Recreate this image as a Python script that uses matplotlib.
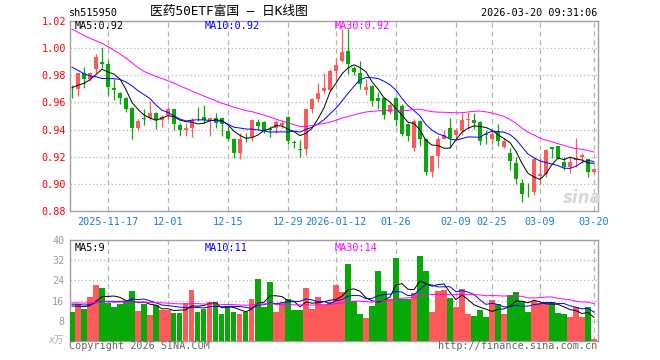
import numpy as np
import matplotlib
matplotlib.use('Agg')
import matplotlib.pyplot as plt

# daily K data, 2025-11-07 .. 2026-03-20
opens = [0.9695, 0.9696, 0.982, 0.977, 0.985, 0.990, 0.988, 0.971, 0.9667, 0.963,
         0.956, 0.941, 0.9485, 0.9484, 0.9523, 0.9467, 0.9504, 0.9548, 0.9435, 0.9395,
         0.9415, 0.9487, 0.9491, 0.9469, 0.9486, 0.9486, 0.9393, 0.9333, 0.9227, 0.9348,
         0.9343, 0.9459, 0.9459, 0.9402, 0.9412, 0.9435, 0.9494, 0.9308, 0.9254, 0.9257,
         0.9548, 0.9622, 0.9684, 0.9691, 0.9832, 0.9906, 0.998, 0.9855, 0.982, 0.969,
         0.972, 0.963, 0.963, 0.9531, 0.963, 0.9573, 0.9444, 0.9264, 0.9462, 0.9333,
         0.9084, 0.9202, 0.933, 0.9412, 0.9363, 0.9393, 0.9474, 0.9474, 0.9457, 0.9365,
         0.9331, 0.9383, 0.9269, 0.9227, 0.9153, 0.9005, 0.8950, 0.8941, 0.9059, 0.9074,
         0.9269, 0.9281, 0.9158, 0.9121, 0.9178, 0.9198, 0.9183, 0.9084]
highs = [0.973, 0.982, 0.986, 0.9825, 0.996, 1.0005, 0.991, 0.977, 0.968, 0.964,
         0.957, 0.948, 0.955, 0.961, 0.953, 0.951, 0.9565, 0.955, 0.9445, 0.9445,
         0.9484, 0.9568, 0.9578, 0.949, 0.952, 0.949, 0.9425, 0.9335, 0.9375, 0.9375,
         0.948, 0.948, 0.946, 0.9425, 0.9467, 0.9467, 0.950, 0.9326, 0.9326, 0.956,
         0.9635, 0.9746, 0.982, 0.9844, 0.9931, 1.014, 1.014, 0.987, 0.9906, 0.977,
         0.973, 0.9675, 0.964, 0.9598, 0.964, 0.9585, 0.9447, 0.9479, 0.9474, 0.9335,
         0.9205, 0.935, 0.9398, 0.9486, 0.9412, 0.9523, 0.9528, 0.9523, 0.9461, 0.9398,
         0.9398, 0.9444, 0.9338, 0.9264, 0.9198, 0.9035, 0.9005, 0.9188, 0.9188, 0.9257,
         0.9272, 0.9281, 0.9198, 0.9202, 0.9338, 0.9227, 0.9183, 0.9116]
lows = [0.963, 0.9647, 0.971, 0.976, 0.982, 0.9857, 0.9657, 0.9615, 0.9585, 0.953,
        0.933, 0.9395, 0.9437, 0.947, 0.9407, 0.942, 0.9475, 0.940, 0.9356, 0.9356,
        0.9348, 0.9465, 0.945, 0.935, 0.941, 0.935, 0.9314, 0.919, 0.918, 0.9306,
        0.9314, 0.940, 0.9375, 0.9346, 0.9375, 0.9412, 0.9296, 0.9264, 0.9198, 0.9215,
        0.9523, 0.960, 0.9672, 0.9684, 0.9758, 0.990, 0.9807, 0.980, 0.9696, 0.9657,
        0.9575, 0.955, 0.948, 0.9516, 0.943, 0.9356, 0.9314, 0.9244, 0.928, 0.9067,
        0.9054, 0.9114, 0.9333, 0.9264, 0.9326, 0.9363, 0.9402, 0.9402, 0.929, 0.9294,
        0.9294, 0.9279, 0.9264, 0.9099, 0.900, 0.8869, 0.8906, 0.8919, 0.900, 0.9054,
        0.919, 0.9183, 0.9104, 0.9079, 0.9126, 0.9153, 0.905, 0.9079]
closes = [0.9690, 0.9815, 0.977, 0.9815, 0.9938, 0.9885, 0.9714, 0.969, 0.9632, 0.9553,
          0.941, 0.946, 0.948, 0.9523, 0.9467, 0.9496, 0.9548, 0.944, 0.9395, 0.9415,
          0.9474, 0.9483, 0.9469, 0.9486, 0.945, 0.9442, 0.9333, 0.9227, 0.9333, 0.9344,
          0.9467, 0.943, 0.9393, 0.9398, 0.9459, 0.945, 0.9314, 0.9304, 0.9250, 0.9548,
          0.9627, 0.9667, 0.9709, 0.9832, 0.9874, 0.9975, 0.9881, 0.9825, 0.9733, 0.9714,
          0.961, 0.961, 0.9506, 0.9578, 0.9469, 0.9368, 0.935, 0.9462, 0.9333, 0.9084,
          0.9202, 0.9331, 0.9363, 0.9338, 0.9395, 0.9474, 0.9479, 0.945, 0.9314, 0.9361,
          0.9368, 0.9314, 0.9314, 0.9165, 0.9037, 0.8926, 0.8946, 0.9183, 0.9072, 0.9252,
          0.9257, 0.919, 0.9121, 0.916, 0.919, 0.9215, 0.9084, 0.9111]
volumes = [11.5, 14.5, 12.7, 17.4, 22.2, 21.0, 15.0, 13.5, 14.7, 16.0,
           19.8, 11.9, 14.8, 10.3, 14.3, 12.3, 12.3, 11.1, 11.1, 15.0,
           20.2, 11.5, 12.7, 15.4, 15.4, 10.7, 13.5, 11.5, 10.7, 11.5,
           16.6, 24.6, 13.5, 23.4, 11.5, 15.0, 16.6, 12.3, 12.3, 21.0,
           12.7, 17.4, 14.3, 15.4, 22.2, 19.4, 30.5, 15.7, 10.7, 9.1,
           13.9, 27.7, 19.8, 16.6, 32.9, 16.6, 16.6, 19.0, 33.7, 27.7,
           11.5, 19.8, 20.2, 17.0, 13.5, 20.6, 10.7, 9.9, 12.3, 9.5,
           16.2, 14.7, 10.7, 18.2, 19.4, 15.8, 11.5, 15.8, 15.0, 15.4,
           15.4, 11.1, 10.7, 9.5, 13.5, 9.5, 13.5, 0.8]

# days before the window, only needed for the moving averages
prev_closes = [1.052, 1.049, 1.044, 1.047, 1.043, 1.048, 1.050, 1.045, 1.042, 1.049,
               1.044, 1.039, 1.006, 1.002, 0.998, 1.004, 0.996, 1.001, 0.999, 1.003,
               1.005, 1.002, 0.998, 1.000, 1.001, 0.972, 0.970, 0.968, 0.975]
prev_volumes = [15.8, 14.2, 16.5, 15.1, 13.9, 16.8, 15.5, 14.6, 15.9, 16.2,
                14.8, 15.3, 16.0, 14.5, 15.7, 15.2, 16.4, 14.9, 15.6, 15.0,
                14.3, 16.1, 15.4, 14.7, 15.8, 14.6, 13.8, 15.2, 14.1]

date_labels = ['2025-11-17', '12-01', '12-15', '12-29', '2026-01-12',
               '01-26', '02-09', '02-25', '03-09', '03-20']
date_index = [6, 16, 26, 36, 44, 54, 64, 70, 78, 87]
price_ticks = [0.88, 0.90, 0.92, 0.94, 0.96, 0.98, 1.00, 1.02]
vol_ticks = [8, 16, 24, 32, 40]

plt.rcParams['font.family'] = ['DejaVu Sans Mono', 'Noto Sans CJK SC']

RED = '#ff5a5a'
GREEN = '#08a808'
GRID = '#b4b4b4'
FRAME = '#a0a0a0'


def moving_avg(prev, vals, n):
    arr = np.array(prev + vals)
    return np.convolve(arr, np.ones(n) / n, mode='valid')[-len(vals):]


o = np.array(opens)
c = np.array(closes)
x = np.arange(len(closes))
colors = [RED if cc >= oo else GREEN for oo, cc in zip(o, c)]

ma_p = {n: moving_avg(prev_closes, closes, n) for n in (5, 10, 30)}
ma_v = {n: moving_avg(prev_volumes, volumes, n) for n in (5, 10, 30)}
ma_colors = {5: 'black', 10: '#0000ff', 30: '#ff00ff'}
label_x = {5: 0.0095, 10: 0.2557, 30: 0.502}

fig = plt.figure(figsize=(6.6, 3.6), dpi=100)
fig.patch.set_facecolor('white')
ax = fig.add_axes([70 / 660, 1 - 211 / 360, 528 / 660, 190 / 360])
axv = fig.add_axes([70 / 660, 1 - 341 / 360, 528 / 660, 101 / 360])

for a in (ax, axv):
    a.set_xlim(-0.33, 87.67)
    for s in a.spines.values():
        s.set_color(FRAME)
        s.set_linewidth(1.0)
    for d in date_index:
        a.axvline(d, color=GRID, lw=0.9, ls=(0, (4, 3)), zorder=1)

# price panel
for p in price_ticks[1:-1]:
    ax.axhline(p, color=GRID, lw=0.9, ls=(0, (1, 2)), zorder=1)
ax.vlines(x, lows, highs, colors=colors, lw=0.9, zorder=2)
ax.bar(x, np.maximum(np.abs(c - o), 0.0004), bottom=np.minimum(o, c),
       width=0.82, color=colors, linewidth=0, zorder=3)
for n in (5, 10, 30):
    ax.plot(x, ma_p[n], color=ma_colors[n], lw=0.7, zorder=4)
    ax.text(label_x[n], 0.972, 'MA%d:%.2f' % (n, ma_p[n][-1]), transform=ax.transAxes,
            color=ma_colors[n], fontsize=7.3, va='center', ha='left', zorder=5)
ax.set_ylim(0.88, 1.02)
ax.set_yticks(price_ticks)
ax.set_yticklabels(['%.2f' % p for p in price_ticks])
ax.set_xticks(date_index)
ax.set_xticklabels(date_labels)
ax.tick_params(axis='y', length=0, pad=3, labelsize=7.3, labelcolor='#ff0000')
ax.tick_params(axis='x', length=0, pad=4, labelsize=7.3, labelcolor='#1a7fd0')

# volume panel
for v in vol_ticks[:-1]:
    axv.axhline(v, color=GRID, lw=0.9, ls=(0, (1, 2)), zorder=1)
axv.bar(x, volumes, width=0.84, color=colors, linewidth=0, zorder=3)
for n in (5, 10, 30):
    axv.plot(x, ma_v[n], color=ma_colors[n], lw=0.7, zorder=4)
    axv.text(label_x[n], 0.925, 'MA%d:%d' % (n, int(ma_v[n][-1])), transform=axv.transAxes,
             color=ma_colors[n], fontsize=7.3, va='center', ha='left', zorder=5)
axv.set_ylim(0, 40)
axv.set_yticks(vol_ticks)
axv.set_yticklabels([str(v) for v in vol_ticks])
axv.set_xticks([])
axv.tick_params(axis='y', length=0, pad=4, labelsize=7.3, labelcolor='#9a9a9a')

# header and footer texts
fig.text(69 / 660, 1 - 13 / 360, 'sh515950', fontsize=7.3, va='center', ha='left')
fig.text(229 / 660, 1 - 12 / 360, '医药50ETF富国 — 日K线图', fontsize=9.2,
         va='center', ha='center')
fig.text(597 / 660, 1 - 13 / 360, '2026-03-20 09:31:06', fontsize=7.3,
         va='center', ha='right')
fig.text(64 / 660, 1 - 340 / 360, 'x万', fontsize=7, va='center', ha='right',
         color='#b0b0b0', style='italic')
fig.text(69 / 660, 1 - 346 / 360, 'Copyright 2026 SINA.COM', fontsize=7.3,
         va='center', ha='left', color='#666666')
fig.text(597 / 660, 1 - 346 / 360, 'http://finance.sina.com.cn', fontsize=7.3,
         va='center', ha='right', color='#666666')
fig.text(582 / 660, 1 - 198 / 360, 'sina', fontsize=12, fontweight='bold', style='italic',
         va='center', ha='center', color='#d8d8d8', family='DejaVu Sans', zorder=0)

fig.savefig('out.png', dpi=100, facecolor='white')
